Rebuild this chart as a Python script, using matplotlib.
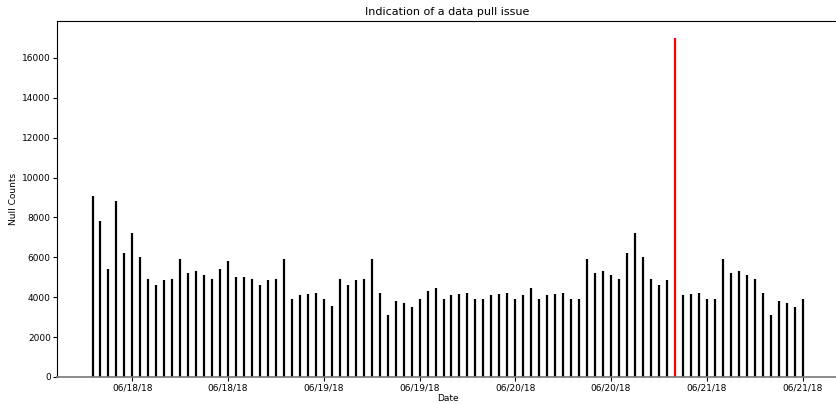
import pandas as pd
import numpy as np
import matplotlib
matplotlib.use('Agg')
import matplotlib.pyplot as plt
import matplotlib.dates as mdates

# hourly null counts, 06/17/18 19:00 -> 06/21/18 12:00
start_time = '2018-06-17 19:00'
null_counts = [9100, 7800, 5400, 8800, 6200, 7200, 6000, 4900, 4600, 4850,
               4900, 5900, 5200, 5300, 5100, 4900, 5400, 5800, 5000, 5000,
               4900, 4600, 4850, 4900, 5900, 3900, 4100, 4150, 4200, 3900,
               3550, 4900, 4600, 4850, 4900, 5900, 4200, 3100, 3800, 3700,
               3500, 3900, 4300, 4450, 3900, 4100, 4150, 4200, 3900, 3900,
               4100, 4150, 4200, 3900, 4100, 4450, 3900, 4100, 4150, 4200,
               3900, 3900, 5900, 5200, 5300, 5100, 4900, 6200, 7200, 6000,
               4900, 4600, 4850, 17000, 4100, 4150, 4200, 3900, 3900, 5900,
               5200, 5300, 5100, 4900, 4200, 3100, 3800, 3700, 3500, 3900]
issue_time = '2018-06-20 20:00'

dates = pd.date_range(start_time, periods=len(null_counts), freq='h')
colors = ['red' if d == pd.Timestamp(issue_time) else 'black' for d in dates]

fig = plt.figure(figsize=(8.36, 4.04), dpi=100)
ax = fig.add_axes([57 / 836, 27 / 404, 781 / 836, 356 / 404])

ax.vlines(dates, 0, null_counts, colors=colors, linewidth=1.6)
ax.set_ylim(bottom=0)

ax.xaxis.set_major_locator(mdates.HourLocator(byhour=[0, 12]))
ax.xaxis.set_major_formatter(mdates.DateFormatter('%m/%d/%y'))

ax.set_title('Indication of a data pull issue', fontsize=8, pad=4)
ax.set_xlabel('Date', fontsize=6.5, labelpad=1)
ax.set_ylabel('Null Counts', fontsize=6.5, labelpad=3)
ax.tick_params(labelsize=6.5, length=3)
ax.tick_params(axis='x', pad=2)
ax.tick_params(axis='y', pad=1.5)
ax.spines['right'].set_visible(False)
ax.spines['bottom'].set_color('#777777')
ax.spines['bottom'].set_linewidth(1.2)

plt.savefig('out.png', dpi=100)
plt.close('all')
